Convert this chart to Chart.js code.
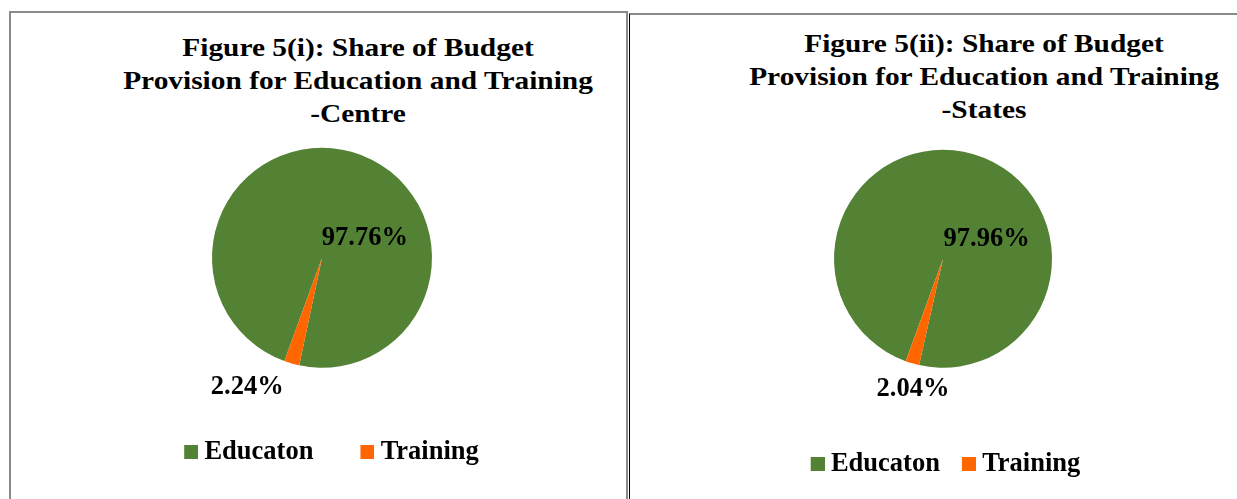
<!DOCTYPE html>
<html>
<head>
<meta charset="utf-8">
<script src="https://cdn.jsdelivr.net/npm/chart.js@4.4.1/dist/chart.umd.min.js"></script>
<style>
  html, body { margin:0; padding:0; background:#fff; width:1237px; height:499px; overflow:hidden; position:relative; }
  .panel { position:absolute; box-sizing:border-box; }
  #p1 { left:9px; top:11px; width:619px; height:540px; border:2px solid #8a8a8a; }
  #p2 { left:629px; top:13px; width:660px; height:540px; border-top:2px solid #8a8a8a; border-left:1px solid #000; }
  .title { position:absolute; width:600px; text-align:center; font-family:'Liberation Serif','Times New Roman',serif;
           font-weight:bold; font-size:26px; line-height:33px; color:#000; transform:scaleX(1.13); transform-origin:50% 0; white-space:nowrap; }
  #t1 { left:58px; top:31px; }
  #t2 { left:684px; top:27px; }
  canvas { position:absolute; }
  #c1 { left:22px; top:13px; }
  #c2 { left:643px; top:15px; }
</style>
</head>
<body>
<div class="panel" id="p1"></div>
<div class="panel" id="p2"></div>
<div class="title" id="t1"></div>
<div class="title" id="t2"></div>
<canvas id="c1" width="600" height="500"></canvas>
<canvas id="c2" width="600" height="500"></canvas>
<script>
// ---- data ----
const categories = ['Educaton', 'Training'];
const centreShares = [97.76, 2.24];
const stateShares = [97.96, 2.04];
const centreTitle = ['Figure 5(i): Share of Budget', 'Provision for Education and Training', '-Centre'];
const stateTitle = ['Figure 5(ii): Share of Budget', 'Provision for Education and Training', '-States'];
const sliceColors = ['#548235', '#FF6600'];

document.getElementById('t1').innerHTML = centreTitle.join('<br>');
document.getElementById('t2').innerHTML = stateTitle.join('<br>');

// legend swatch: 14px square drawn with a left offset so the text gap matches
function swatch(color) {
  const c = document.createElement('canvas');
  c.width = 22; c.height = 14;
  const g = c.getContext('2d');
  g.fillStyle = color;
  g.fillRect(8, 0, 14, 14);
  return c;
}
const swatches = sliceColors.map(swatch);

const valueLabels = {
  id: 'valueLabels',
  afterDatasetsDraw(chart, args, opts) {
    const ctx = chart.ctx;
    const meta = chart.getDatasetMeta(0);
    const data = chart.data.datasets[0].data;
    ctx.save();
    ctx.font = 'bold 26.5px "Liberation Serif"';
    ctx.fillStyle = '#000';
    ctx.textAlign = 'center';
    ctx.textBaseline = 'middle';
    meta.data.forEach((arc, i) => {
      const p = arc.getProps(['x', 'y', 'outerRadius'], true);
      const off = opts.offsets[i];
      ctx.fillText(data[i].toFixed(2) + '%', p.x + off[0] * p.outerRadius, p.y + off[1] * p.outerRadius);
    });
    ctx.restore();
  }
};

const legendShift = {
  id: 'legendShift',
  afterLayout(chart, args, opts) {
    const lg = chart.legend;
    if (!lg) return;
    lg.left += opts.dx;
    lg.right += opts.dx;
  }
};

function makePie(canvasId, values, cfg) {
  return new Chart(document.getElementById(canvasId), {
    type: 'pie',
    data: {
      labels: categories,
      datasets: [{ data: values, backgroundColor: sliceColors, borderWidth: 0 }]
    },
    options: {
      responsive: false,
      animation: false,
      rotation: 200,
      radius: cfg.radius,
      layout: { padding: cfg.padding },
      plugins: {
        title: { display: false },
        tooltip: { enabled: false },
        legend: {
          position: 'bottom',
          labels: {
            usePointStyle: true,
            boxWidth: 8,
            padding: cfg.legendGap,
            color: '#000',
            font: { family: 'Liberation Serif', weight: 'bold', size: 26.5 },
            generateLabels(chart) {
              const items = Chart.overrides.doughnut.plugins.legend.labels.generateLabels(chart);
              return items.map((it, i) => Object.assign({}, it, { pointStyle: swatches[i] }));
            }
          }
        },
        valueLabels: { offsets: cfg.labelOffsets },
        legendShift: { dx: cfg.legendDx }
      }
    },
    plugins: [valueLabels, legendShift]
  });
}

makePie('c1', centreShares, {
  radius: 110,
  padding: { top: 110, bottom: 38, left: 0, right: 0 },
  legendGap: 46,
  legendDx: 9,
  labelOffsets: [[0.39, -0.177], [-0.68, 1.18]]
});

makePie('c2', stateShares, {
  radius: 109,
  padding: { top: 73, bottom: 28, left: 0, right: 0 },
  legendGap: 21,
  legendDx: 2,
  labelOffsets: [[0.40, -0.179], [-0.275, 1.195]]
});
</script>
</body>
</html>
